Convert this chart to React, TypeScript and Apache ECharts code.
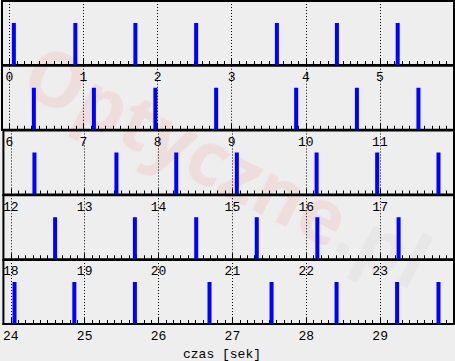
import React, { useEffect, useRef } from "react";
import * as echarts from "echarts";

const rowStarts = [0, 6, 12, 18, 24];
const beatsRow1 = [0.06, 0.89, 1.7, 2.52, 3.61, 4.42, 5.24];
const beatsRow2 = [6.33, 7.14, 7.97, 8.79, 9.87, 10.69, 11.52];
const beatsRow3 = [12.32, 13.43, 14.24, 15.06, 16.14, 16.96, 17.79];
const beatsRow4 = [18.6, 19.68, 20.51, 21.33, 22.15, 23.25];
const beatsRow5 = [24.05, 24.86, 25.68, 26.69, 27.53, 28.41, 29.23, 29.79];
const beats = [beatsRow1, beatsRow2, beatsRow3, beatsRow4, beatsRow5];
const barValue = 42;
const axisName = "czas [sek]";
const watermarkMain = "Optyczne";
const watermarkTail = ".pl";

const FONT = "'Liberation Mono', 'DejaVu Sans Mono', monospace";

export default function App() {
  const ref = useRef<HTMLDivElement>(null);
  useEffect(() => {
    if (!ref.current) return;
    const chart = echarts.init(ref.current, null, { renderer: "svg" });
    const rowH = 64.75;
    const grids: any[] = [];
    const xAxes: any[] = [];
    const yAxes: any[] = [];
    const series: any[] = [];
    rowStarts.forEach((s, i) => {
      const axisY = 65 + rowH * i;
      grids.push({
        left: 2,
        width: 452,
        top: axisY - 64,
        height: 64,
        show: true,
        borderColor: "#000",
        borderWidth: 2,
        backgroundColor: "transparent",
      });
      const majors: number[] = [];
      for (let k = 0; k < 6; k++) majors.push(s + k);
      xAxes.push({
        type: "value",
        gridIndex: i,
        min: s - 0.1,
        max: s + 6,
        position: "bottom",
        axisLine: { show: true, onZero: false, lineStyle: { color: "#000", width: 2 } },
        axisTick: {
          show: true,
          inside: true,
          length: 6,
          customValues: majors,
          lineStyle: { color: "#000", width: 1 },
        },
        axisLabel: {
          show: true,
          customValues: majors,
          margin: 6,
          color: "#000",
          fontFamily: FONT,
          fontSize: 13,
          showMinLabel: true,
          showMaxLabel: true,
        },
        splitLine: { show: false },
      });
      xAxes.push({
        type: "value",
        gridIndex: i,
        min: s - 0.1,
        max: s + 6,
        interval: 0.1,
        position: "bottom",
        axisLine: { show: true, onZero: false, lineStyle: { color: "#000", width: 2 } },
        axisTick: {
          show: true,
          inside: true,
          length: 4,
          lineStyle: { color: "#000", width: 1 },
        },
        axisLabel: { show: false },
        splitLine: { show: false },
      });
      yAxes.push({
        type: "value",
        gridIndex: i,
        min: 0,
        max: 64,
        show: false,
      });
      series.push({
        type: "bar",
        xAxisIndex: i * 2,
        yAxisIndex: i,
        barWidth: 4,
        z: 3,
        itemStyle: { color: "#0000ff" },
        data: beats[i].map((t) => [t, barValue]),
        markLine: {
          silent: true,
          symbol: "none",
          label: { show: false },
          lineStyle: { color: "#000", type: [1, 2], width: 1 },
          data: majors.map((v) => ({ xAxis: v })),
        },
      });
    });

    chart.setOption({
      animation: false,
      backgroundColor: "#eeeeee",
      grid: grids,
      xAxis: xAxes,
      yAxis: yAxes,
      series,
      graphic: [
        {
          type: "text",
          x: 228,
          y: 165,
          rotation: -0.47,
          z: -10,
          silent: true,
          style: {
            text: `{a|${watermarkMain}}{b|${watermarkTail}}`,
            align: "center",
            verticalAlign: "middle",
            rich: {
              a: {
                fontFamily: "'Open Sans', 'Liberation Sans', Arial, sans-serif",
                fontWeight: "bold",
                fontSize: 75,
                fill: "rgba(240,40,40,0.09)",
                textShadowColor: "rgba(0,0,0,0.06)",
                textShadowOffsetX: -3,
                textShadowOffsetY: 3,
                textShadowBlur: 3,
              },
              b: {
                fontFamily: "'Open Sans', 'Liberation Sans', Arial, sans-serif",
                fontWeight: "bold",
                fontSize: 75,
                fill: "rgba(0,0,0,0.03)",
                textShadowColor: "rgba(0,0,0,0.06)",
                textShadowOffsetX: -3,
                textShadowOffsetY: 3,
                textShadowBlur: 3,
              },
            },
          },
        },
        {
          type: "text",
          x: 222,
          y: 354,
          style: {
            text: axisName,
            align: "center",
            verticalAlign: "middle",
            fontFamily: FONT,
            fontSize: 13,
            fill: "#000",
          },
        },
      ],
    });
    return () => chart.dispose();
  }, []);
  return (
    <div
      ref={ref}
      style={{ position: "fixed", left: 0, top: 0, width: 455, height: 361, background: "#eeeeee" }}
    />
  );
}
